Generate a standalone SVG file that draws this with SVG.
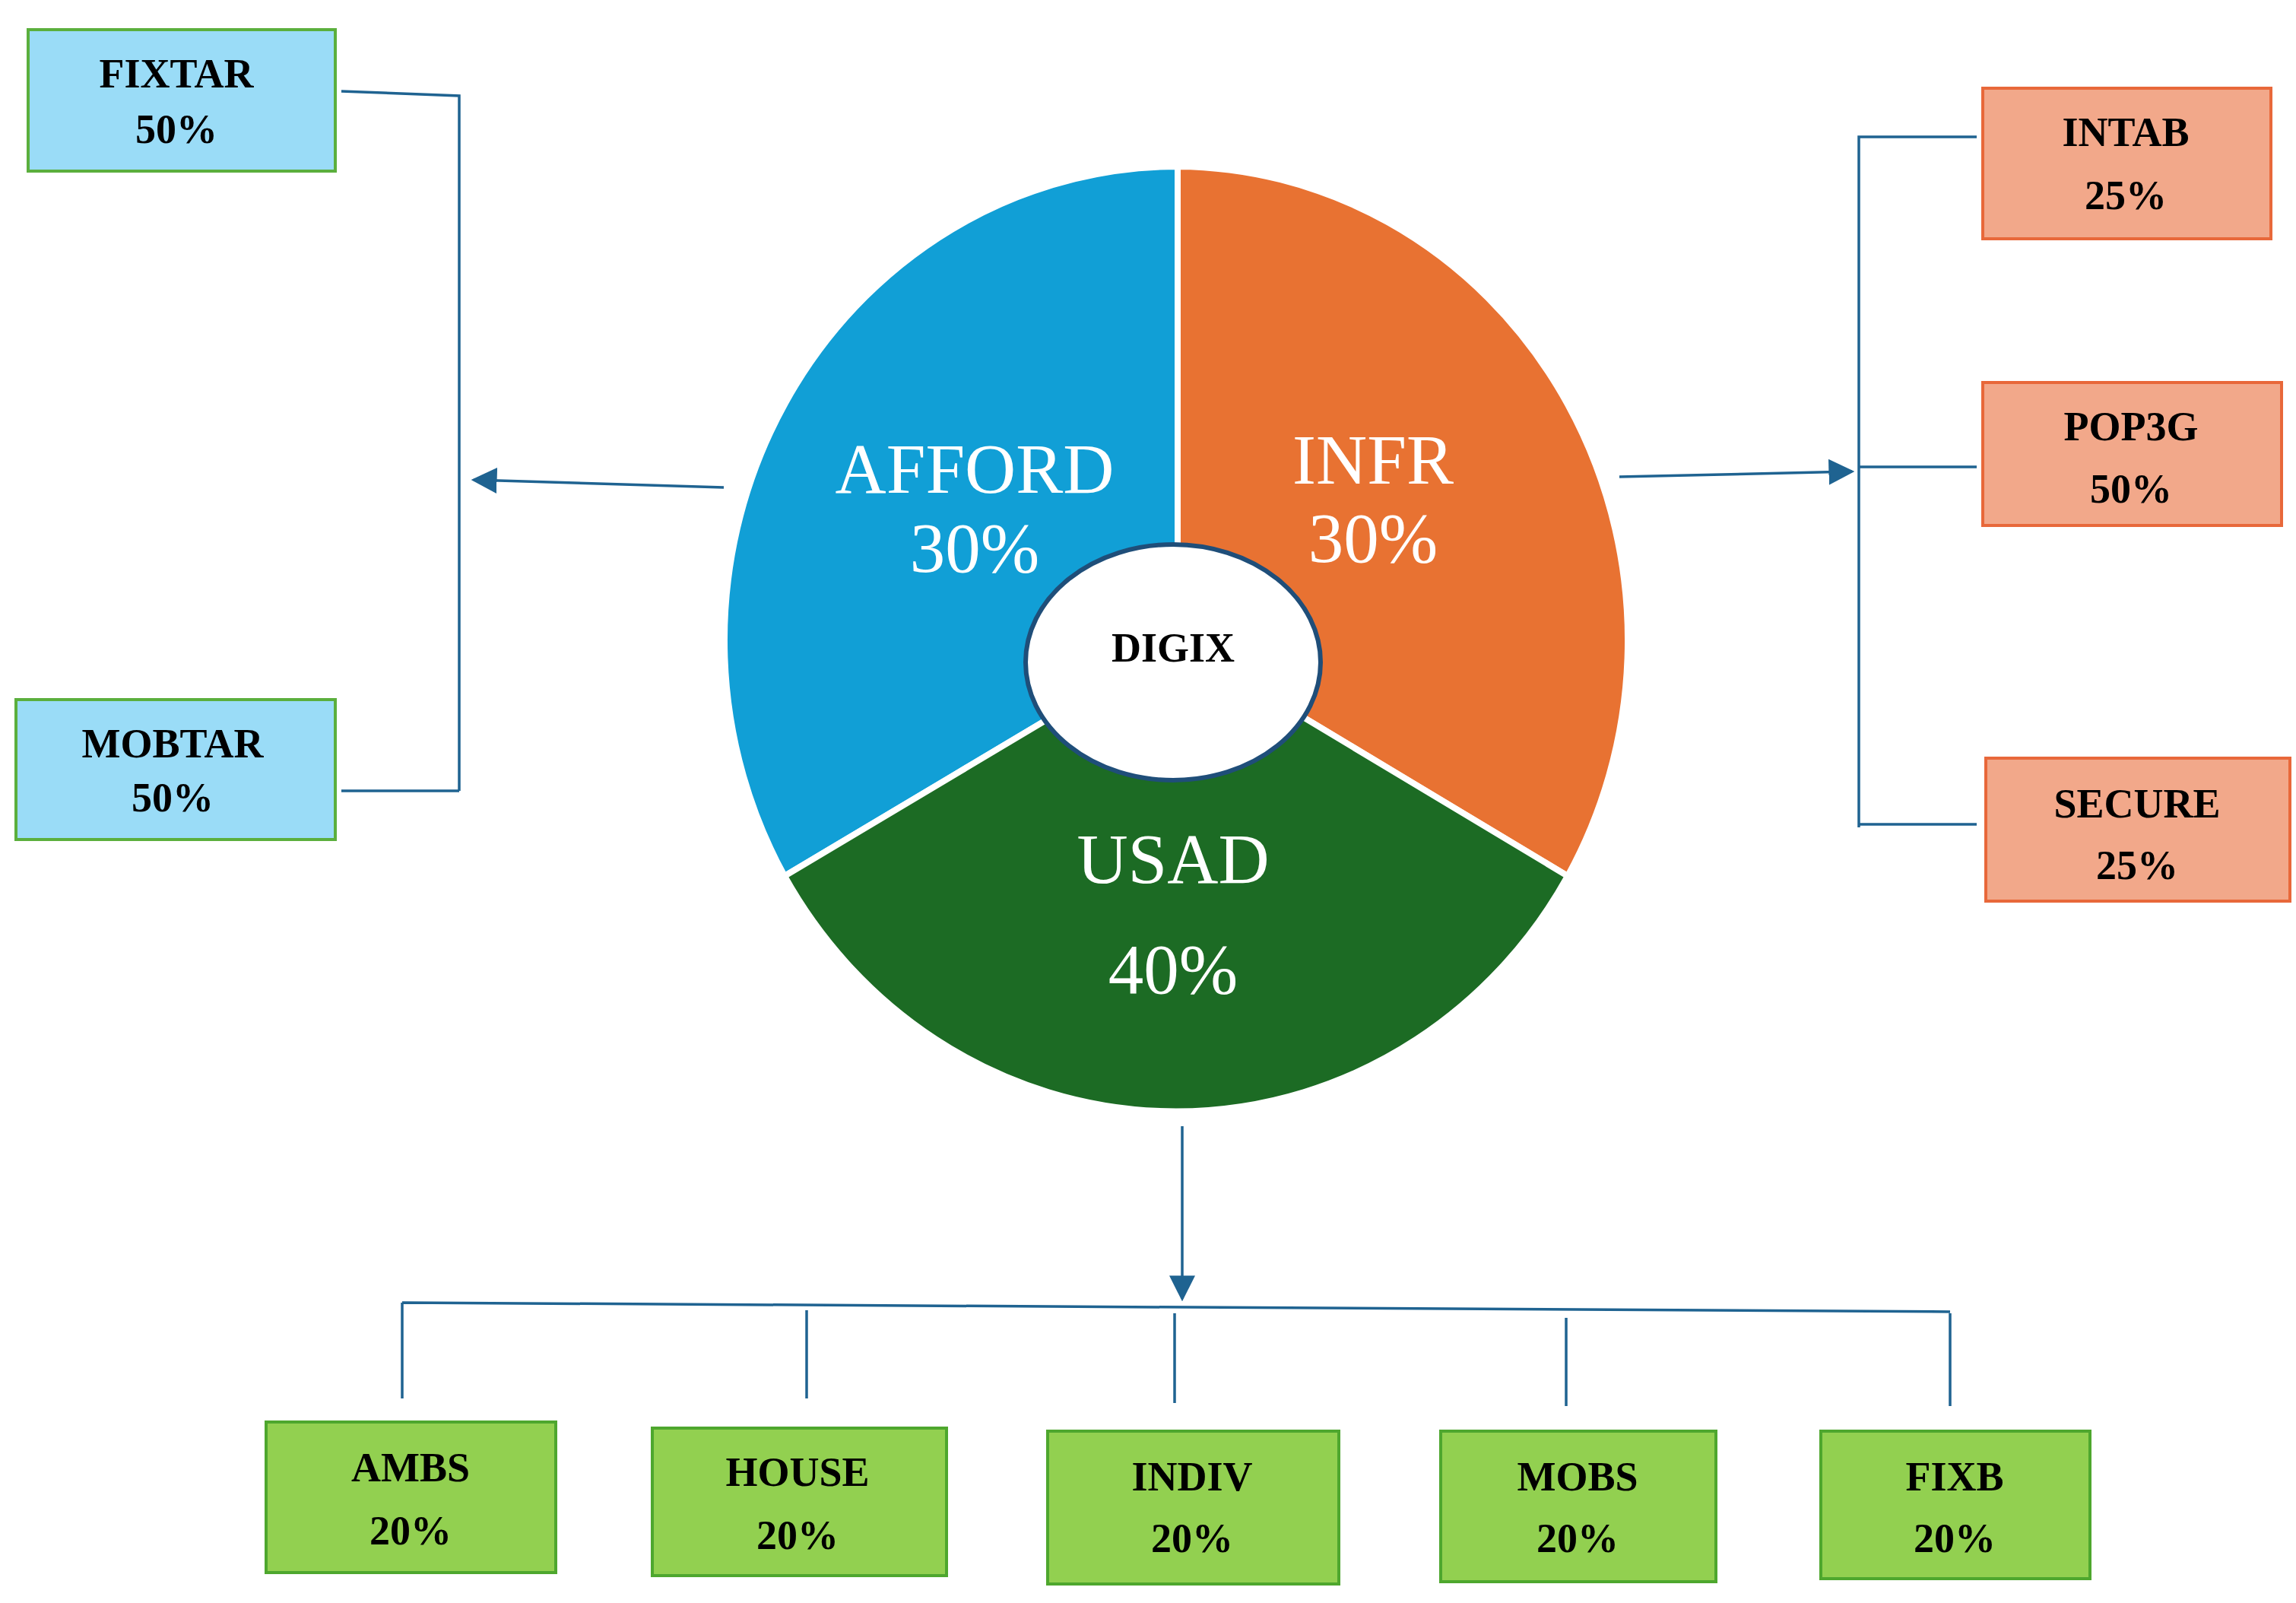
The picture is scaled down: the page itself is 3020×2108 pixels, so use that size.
<svg xmlns="http://www.w3.org/2000/svg" width="3020" height="2108" viewBox="0 0 3020 2108">
<style>
.t{font-family:"Liberation Serif",serif;font-weight:bold;font-size:54px;fill:#000;text-anchor:middle;dominant-baseline:central}
.p{font-family:"Liberation Serif",serif;font-size:93px;fill:#fff;text-anchor:middle;dominant-baseline:central}
.blue{fill:#9ADCF7;stroke:#5BAF3D;stroke-width:4}
.sal{fill:#F2A88A;stroke:#E8683A;stroke-width:4}
.grn{fill:#92D050;stroke:#4EA72E;stroke-width:4}
.c{stroke:#1F6391;stroke-width:3.5;fill:none}
</style>
<defs><marker id="a" viewBox="0 0 10 10" refX="9" refY="5" markerWidth="7" markerHeight="7" orient="auto" markerUnits="userSpaceOnUse" ><path d="M0,0L10,5L0,10z" fill="#1F6391"/></marker>
<marker id="b" viewBox="0 0 10 10" refX="9" refY="5" markerWidth="34" markerHeight="34" orient="auto" markerUnits="userSpaceOnUse"><path d="M0,0L10,5L0,10z" fill="#1F6391"/></marker></defs>
<rect width="3020" height="2108" fill="#fff"/>
<g id="pie" stroke="#fff" stroke-width="8">
<path d="M1549 844L1549 219A596 623 0 0 0 1032 1152Z" fill="#119FD6"/>
<path d="M1549 844L1549 219A596 623 0 0 1 2062 1152Z" fill="#E87232"/>
<path d="M1549 844L2062 1152A596 623 0 0 1 1032 1152Z" fill="#1C6B24"/>
</g>
<text class="p" x="1282" y="616">AFFORD</text><text class="p" x="1282" y="720">30%</text>
<text class="p" x="1806" y="604">INFR</text><text class="p" x="1806" y="707">30%</text>
<text class="p" x="1543" y="1129">USAD</text><text class="p" x="1543" y="1274">40%</text>
<g id="digix"><ellipse cx="1543" cy="871" rx="194" ry="155" fill="#fff" stroke="#1F4E79" stroke-width="6"/><text class="t" x="1543" y="852" font-size="58">DIGIX</text></g>
<g id="connectors" class="c">
<path d="M449 120L604 126L604 1040M449 1040L604 1040"/>
<path d="M952 641L623 631" marker-end="url(#b)"/>
<path d="M2600 180L2445 180L2445 1088M2445 614L2600 614M2445 1084L2600 1084"/>
<path d="M2130 627L2436 620" marker-end="url(#b)"/>
<path d="M1555 1481L1555 1708" marker-end="url(#b)"/>
<path d="M529 1713L2565 1725M529 1713L529 1839M1061 1723L1061 1839M1545 1727L1545 1845M2060 1733L2060 1849M2565 1727L2565 1849"/>
</g>
<g id="fixtar"><rect class="blue" x="37" y="39" width="404" height="186"/><text class="t" x="232" y="97">FIXTAR</text><text class="t" x="232" y="170">50%</text></g>
<g id="mobtar"><rect class="blue" x="21" y="920" width="420" height="184"/><text class="t" x="227" y="978">MOBTAR</text><text class="t" x="227" y="1049">50%</text></g>
<g id="intab"><rect class="sal" x="2608" y="116" width="379" height="198"/><text class="t" x="2796" y="174">INTAB</text><text class="t" x="2796" y="257">25%</text></g>
<g id="pop3g"><rect class="sal" x="2608" y="503" width="393" height="188"/><text class="t" x="2803" y="561">POP3G</text><text class="t" x="2803" y="643">50%</text></g>
<g id="secure"><rect class="sal" x="2612" y="997" width="400" height="188"/><text class="t" x="2811" y="1057">SECURE</text><text class="t" x="2811" y="1138">25%</text></g>
<g id="ambs"><rect class="grn" x="350" y="1870" width="381" height="198"/><text class="t" x="540" y="1930">AMBS</text><text class="t" x="540" y="2013">20%</text></g>
<g id="house"><rect class="grn" x="858" y="1878" width="387" height="194"/><text class="t" x="1049" y="1936">HOUSE</text><text class="t" x="1049" y="2019">20%</text></g>
<g id="indiv"><rect class="grn" x="1378" y="1882" width="383" height="201"/><text class="t" x="1568" y="1942">INDIV</text><text class="t" x="1568" y="2023">20%</text></g>
<g id="mobs"><rect class="grn" x="1895" y="1882" width="362" height="198"/><text class="t" x="2075" y="1942">MOBS</text><text class="t" x="2075" y="2023">20%</text></g>
<g id="fixb"><rect class="grn" x="2395" y="1882" width="354" height="194"/><text class="t" x="2571" y="1942">FIXB</text><text class="t" x="2571" y="2023">20%</text></g>
</svg>
